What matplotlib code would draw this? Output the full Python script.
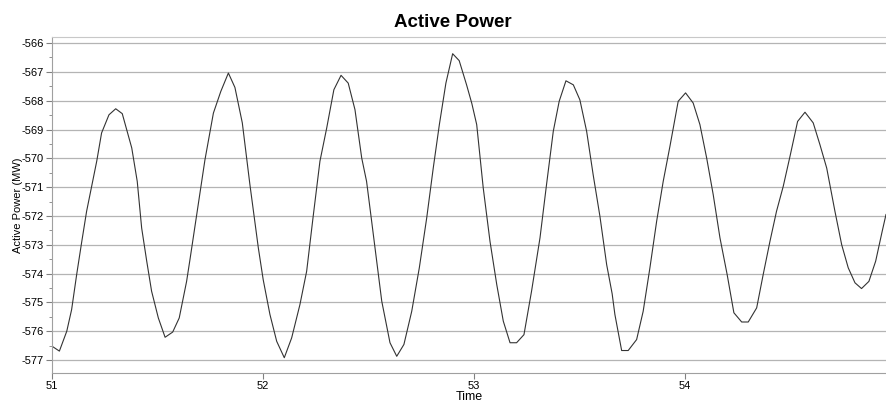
import matplotlib.pyplot as plt
from matplotlib.ticker import MultipleLocator

plt.rcParams["font.family"] = ["Liberation Sans", "DejaVu Sans"]

# time (s) and active power (MW)
time = [
    51.000, 51.035, 51.070, 51.093, 51.117, 51.140, 51.164, 51.188, 51.212, 51.235,
    51.270, 51.302, 51.333, 51.378, 51.404, 51.425, 51.449, 51.472, 51.504, 51.536,
    51.572, 51.603, 51.638, 51.654, 51.686, 51.725, 51.765, 51.800, 51.836, 51.867,
    51.902, 51.938, 51.978, 52.001, 52.033, 52.065, 52.101, 52.136, 52.175, 52.207,
    52.238, 52.270, 52.302, 52.336, 52.370, 52.404, 52.436, 52.468, 52.491, 52.515,
    52.539, 52.563, 52.602, 52.634, 52.668, 52.705, 52.741, 52.776, 52.807, 52.836,
    52.867, 52.899, 52.930, 52.965, 52.990, 53.013, 53.044, 53.076, 53.108, 53.139,
    53.171, 53.202, 53.237, 53.273, 53.313, 53.344, 53.376, 53.404, 53.436, 53.471,
    53.502, 53.534, 53.565, 53.597, 53.629, 53.655, 53.668, 53.700, 53.731, 53.771,
    53.802, 53.834, 53.866, 53.897, 53.929, 53.968, 54.003, 54.039, 54.071, 54.103,
    54.134, 54.166, 54.200, 54.232, 54.269, 54.300, 54.340, 54.371, 54.403, 54.434,
    54.466, 54.498, 54.534, 54.569, 54.608, 54.640, 54.672, 54.711, 54.743, 54.774,
    54.806, 54.837, 54.872, 54.904, 54.935, 54.953,
]
power = [
    -576.52, -576.69, -576.00, -575.25, -574.03, -572.94, -571.84, -570.97, -570.10, -569.12,
    -568.49, -568.28, -568.45, -569.64, -570.80, -572.42, -573.57, -574.61, -575.54, -576.21,
    -576.03, -575.54, -574.27, -573.51, -571.95, -570.05, -568.43, -567.68, -567.04, -567.54,
    -568.77, -570.91, -573.11, -574.21, -575.42, -576.35, -576.92, -576.23, -575.08, -573.92,
    -572.01, -570.10, -568.95, -567.62, -567.12, -567.39, -568.31, -569.99, -570.80, -572.18,
    -573.57, -574.96, -576.40, -576.87, -576.46, -575.31, -573.80, -572.07, -570.34, -568.83,
    -567.39, -566.37, -566.61, -567.45, -568.10, -568.83, -571.03, -572.88, -574.38, -575.65,
    -576.40, -576.40, -576.12, -574.61, -572.76, -570.91, -569.06, -568.02, -567.31, -567.45,
    -567.97, -569.06, -570.57, -572.01, -573.69, -574.70, -575.42, -576.67, -576.67, -576.29,
    -575.31, -573.80, -572.18, -570.80, -569.58, -568.02, -567.73, -568.08, -568.83, -569.99,
    -571.26, -572.76, -574.03, -575.36, -575.68, -575.68, -575.19, -574.03, -572.88, -571.84,
    -570.97, -569.93, -568.72, -568.40, -568.77, -569.53, -570.34, -571.84, -573.00, -573.80,
    -574.32, -574.52, -574.27, -573.57, -572.53, -571.95,
]
x_ticks = [51, 52, 53, 54]

fig = plt.figure(figsize=(8.86, 4.03), dpi=100)
ax = fig.add_axes([52 / 886, 30 / 403, 834 / 886, 336 / 403])

ax.plot(time, power, color="#333333", linewidth=0.8)

ax.set_xlim(51, 54.953)
ax.set_ylim(-577.45, -565.79)
ax.set_xticks(x_ticks)
ax.yaxis.set_major_locator(MultipleLocator(1))
ax.yaxis.set_minor_locator(MultipleLocator(0.5))
ax.yaxis.set_major_formatter(plt.FuncFormatter(lambda v, p: "%d" % round(v)))

ax.grid(axis="y", which="major", color="#b4b4b4", linewidth=0.9)
ax.set_axisbelow(True)
for side in ["left", "bottom"]:
    ax.spines[side].set_color("#a0a0a0")
ax.spines["top"].set_color("#c8c8c8")
ax.spines["right"].set_visible(False)
ax.tick_params(axis="both", which="major", labelsize=8, length=4, color="#808080", pad=2)
ax.tick_params(axis="y", which="minor", length=2, color="#808080")

ax.set_title("Active Power", fontsize=13.5, fontweight="bold", x=0.48, pad=7)
ax.set_ylabel("Active Power (MW)", fontsize=8, labelpad=-1)
ax.set_xlabel("Time", fontsize=9, labelpad=0)

plt.savefig("out.png", dpi=100)
